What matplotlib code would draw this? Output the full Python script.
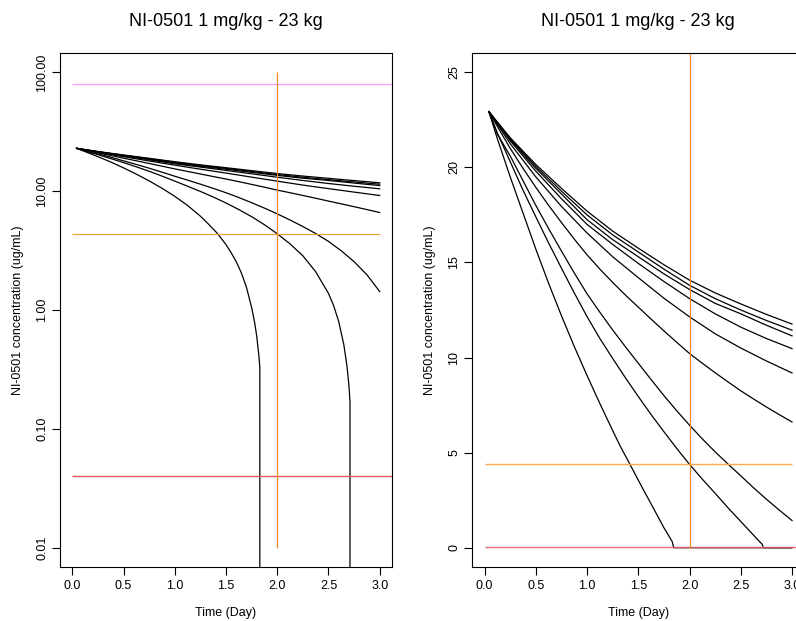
#!/usr/bin/env python3
"""NI-0501 1 mg/kg - 23 kg : simulated concentration profiles (log and linear)."""

import matplotlib
matplotlib.use("Agg")
import matplotlib.pyplot as plt

plt.rcParams["font.family"] = ["Liberation Sans", "DejaVu Sans"]

# time grid (days) for the five slowest profiles
time_grid = [0.042, 0.25, 0.5, 0.75, 1.0, 1.25, 1.5, 1.75, 2.0, 2.25, 2.5, 2.75, 3.0]

conc_1 = [22.93, 21.56, 20.15, 18.90, 17.70, 16.65, 15.75, 14.88, 14.07, 13.40, 12.82, 12.27, 11.76]
conc_2 = [22.93, 21.50, 20.05, 18.75, 17.50, 16.45, 15.55, 14.65, 13.80, 13.10, 12.50, 11.95, 11.44]
conc_3 = [22.93, 21.45, 19.95, 18.60, 17.25, 16.20, 15.30, 14.40, 13.58, 12.85, 12.30, 11.70, 11.14]
conc_4 = [22.93, 21.40, 19.80, 18.35, 17.00, 15.95, 14.95, 14.00, 13.10, 12.30, 11.60, 11.00, 10.47]
conc_5 = [22.93, 21.25, 19.50, 17.95, 16.55, 15.30, 14.20, 13.12, 12.14, 11.25, 10.50, 9.82, 9.19]

# finer time grid for the more curved profiles
time_fine = [0.042, 0.125, 0.25, 0.375, 0.5, 0.625, 0.75, 0.875, 1.0, 1.125, 1.25, 1.375,
             1.5, 1.625, 1.75, 1.875, 2.0, 2.125, 2.25, 2.375, 2.5, 2.625, 2.75, 2.875, 3.0]

conc_6 = [22.93, 22.15, 21.00, 19.95, 18.95, 18.00, 17.10, 16.23, 15.40, 14.65, 13.95, 13.28,
          12.65, 12.02, 11.40, 10.80, 10.21, 9.70, 9.20, 8.72, 8.25, 7.82, 7.40, 7.00, 6.61]
conc_7 = [22.93, 21.75, 20.60, 19.30, 18.00, 16.78, 15.60, 14.45, 13.35, 12.38, 11.45, 10.56,
          9.70, 8.84, 8.00, 7.20, 6.44, 5.72, 5.04, 4.40, 3.78, 3.15, 2.55, 1.98, 1.43]

# the two fastest profiles fall to zero before day 3
time_8 = [0.042, 0.125, 0.25, 0.375, 0.5, 0.625, 0.75, 0.875, 1.0, 1.125, 1.25, 1.375, 1.5,
          1.625, 1.75, 1.875, 2.0, 2.125, 2.25, 2.375, 2.5, 2.55, 2.6, 2.65, 2.68, 2.7, 2.71,
          2.72, 3.0]
conc_8 = [22.93, 21.80, 20.30, 18.80, 17.40, 16.02, 14.70, 13.40, 12.15, 11.00, 9.95, 8.93, 7.95,
          7.00, 6.10, 5.22, 4.38, 3.60, 2.86, 2.10, 1.38, 1.09, 0.80, 0.51, 0.34, 0.23, 0.17,
          0.0, 0.0]

time_9 = [0.042, 0.125, 0.25, 0.375, 0.5, 0.625, 0.75, 0.875, 1.0, 1.125, 1.25, 1.32, 1.417,
          1.5, 1.55, 1.6, 1.65, 1.7, 1.75, 1.78, 1.8, 1.82, 1.83, 1.846, 3.0]
conc_9 = [22.93, 21.50, 19.50, 17.60, 15.70, 13.90, 12.20, 10.58, 9.05, 7.58, 6.16, 5.38, 4.40,
          3.55, 3.04, 2.55, 2.05, 1.55, 1.05, 0.78, 0.60, 0.42, 0.33, 0.0, 0.0]

# reference lines
upper_conc = 80.0
target_conc = 4.4
lower_conc = 0.04
target_day = 2.0

profiles = [
    (time_grid, conc_1), (time_grid, conc_2), (time_grid, conc_3),
    (time_grid, conc_4), (time_grid, conc_5), (time_fine, conc_6),
    (time_fine, conc_7), (time_8, conc_8), (time_9, conc_9),
]

TITLE = "NI-0501 1 mg/kg - 23 kg"
YLABEL = "NI-0501 concentration (ug/mL)"

fig = plt.figure(figsize=(7.96, 6.21), dpi=100)
W, H = 796.0, 621.0
ax_log = fig.add_axes([60 / W, (H - 566.7) / H, 332 / W, 513.4 / H])
ax_lin = fig.add_axes([472.3 / W, (H - 566.7) / H, 332 / W, 513.4 / H])


def style_axis(ax):
    for sp in ax.spines.values():
        sp.set_linewidth(0.8)
        sp.set_color("black")
    ax.tick_params(direction="out", length=5.5, width=0.8, labelsize=9, pad=4)
    ax.tick_params(axis="y", labelrotation=90, pad=3)
    for lab in ax.get_yticklabels():
        lab.set_verticalalignment("center")
    ax.set_xlim(-0.12, 3.12)
    ax.set_xticks([0, 0.5, 1.0, 1.5, 2.0, 2.5, 3.0],
                  ["0.0", "0.5", "1.0", "1.5", "2.0", "2.5", "3.0"])
    ax.set_xlabel("Time (Day)", fontsize=9, va="center")
    ax.xaxis.set_label_coords(0.5, -0.09)
    ax.set_ylabel(YLABEL, fontsize=9, va="center")
    ax.yaxis.set_label_coords(-0.127, 0.5)


# log panel
for t, c in profiles:
    ax_log.plot(t, c, color="black", linewidth=0.9)
ax_log.set_yscale("log", nonpositive="clip")
ax_log.set_ylim(10 ** -2.16, 10 ** 2.16)
ax_log.set_yticks([0.01, 0.1, 1, 10, 100], ["0.01", "0.10", "1.00", "10.00", "100.00"])
ax_log.minorticks_off()
ax_log.hlines(upper_conc, 0, 3.5, color="#FF99FF", linewidth=0.9)
ax_log.hlines(target_conc, 0, 3.0, color="#F5A040", linewidth=0.9)
ax_log.hlines(lower_conc, 0, 3.5, color="#E05555", linewidth=1.0)
ax_log.vlines(target_day, 0.01, 100, color="#F08C30", linewidth=0.9)
style_axis(ax_log)

# linear panel
for t, c in profiles:
    ax_lin.plot(t, c, color="black", linewidth=0.9)
ax_lin.set_ylim(-1.0, 26.0)
ax_lin.set_yticks([0, 5, 10, 15, 20, 25], ["0", "5", "10", "15", "20", "25"])
ax_lin.hlines(upper_conc, 0, 3.5, color="#FF99FF", linewidth=0.9)
ax_lin.hlines(target_conc, 0, 3.0, color="#FFA850", linewidth=1.0)
ax_lin.hlines(lower_conc, 0, 3.5, color="#E06060", linewidth=1.0, alpha=0.9)
ax_lin.vlines(target_day, 0, 100, color="#F08C30", linewidth=0.9)
style_axis(ax_lin)

fig.text(226 / W, 1 - 22 / H, TITLE, ha="center", va="center", fontsize=13)
fig.text(638 / W, 1 - 22 / H, TITLE, ha="center", va="center", fontsize=13)

fig.savefig("out.png", dpi=100)
